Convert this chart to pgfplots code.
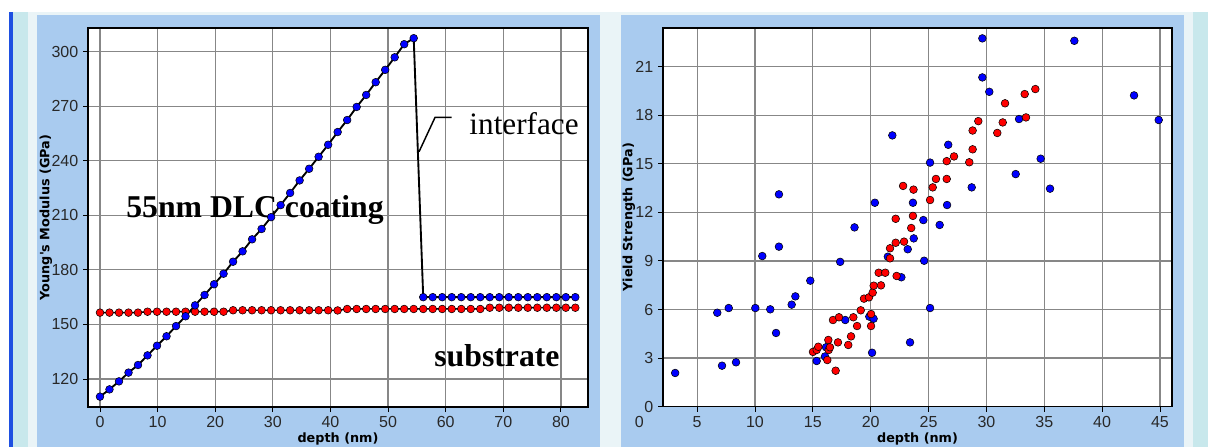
\documentclass[border=0pt]{standalone}
\usepackage{fontspec}
\usepackage{pgfplots}
\usepackage{pgfplotstable}
\pgfplotsset{compat=1.18}
\setmainfont{Liberation Sans}
\newfontfamily\labfont{DejaVu Sans}
\newfontfamily\seriffont{Liberation Serif}
\definecolor{panel}{RGB}{169,203,239}
\definecolor{pale}{RGB}{234,244,247}
\definecolor{cyanstrip}{RGB}{200,232,236}
\definecolor{edgeblue}{RGB}{30,80,225}
\definecolor{gridgray}{RGB}{135,135,135}
\definecolor{tickgray}{RGB}{40,40,40}

\pgfplotstableread{
x y
0 110.3
1.65 114.3
3.3 118.7
4.95 123.5
6.6 127.7
8.25 133.0
9.9 138.3
11.55 143.5
13.2 149.1
14.85 154.5
16.5 160.5
18.15 166.2
19.8 172.1
21.45 177.9
23.1 184.5
24.75 190.2
26.4 196.8
28.05 202.5
29.7 209.0
31.35 215.6
33.0 222.3
34.65 229.2
36.3 235.6
37.95 242.2
39.6 248.8
41.25 255.8
42.9 262.4
44.55 269.6
46.2 276.2
47.85 283.2
49.5 290.0
51.15 296.9
52.8 304.1
54.45 307.4
56.1 165.0
57.75 165.0
59.4 165.0
61.05 165.0
62.7 165.0
64.35 165.0
66.0 165.0
67.65 165.0
69.3 165.0
70.95 165.0
72.6 165.0
74.25 165.0
75.9 165.0
77.55 165.0
79.2 165.0
80.85 165.0
82.5 165.0
}\modblue

\pgfplotstableread{
x y
0 156.5
1.65 156.5
3.3 156.5
4.95 156.5
6.6 156.5
8.25 157.0
9.9 157.0
11.55 157.0
13.2 157.0
14.85 157.0
16.5 157.0
18.15 157.0
19.8 157.0
21.45 157.0
23.1 157.8
24.75 157.8
26.4 157.8
28.05 157.8
29.7 157.8
31.35 157.8
33.0 157.8
34.65 157.8
36.3 157.8
37.95 157.8
39.6 157.8
41.25 157.7
42.9 158.5
44.55 158.5
46.2 158.5
47.85 158.5
49.5 158.5
51.15 158.5
52.8 158.5
54.45 158.5
56.1 158.5
57.75 158.5
59.4 158.5
61.05 158.5
62.7 158.5
64.35 158.5
66.0 158.5
67.65 159.2
69.3 159.2
70.95 159.2
72.6 159.2
74.25 159.2
75.9 159.2
77.55 159.2
79.2 159.2
80.85 159.2
82.5 159.2
}\modred

\pgfplotstableread{
x y
3.1 2.08
6.74 5.80
7.15 2.53
7.73 6.09
8.36 2.74
10.03 6.09
10.63 9.30
11.32 6.01
11.82 4.55
12.07 9.88
12.07 13.11
13.17 6.30
13.49 6.81
14.78 7.78
15.33 2.82
16.05 3.10
16.14 3.67
17.36 8.94
17.80 5.35
18.60 11.07
19.88 5.56
20.12 3.33
20.25 5.43
20.36 12.59
21.48 9.26
21.87 16.75
22.65 7.99
23.2 9.72
23.4 3.97
23.65 12.59
23.72 10.39
24.55 11.52
24.62 9.01
25.13 15.07
25.13 6.09
25.96 11.22
26.6 12.45
26.7 16.17
28.73 13.54
29.65 22.74
29.65 20.33
30.25 19.44
32.53 14.36
32.82 17.76
34.69 15.31
35.5 13.46
37.6 22.59
42.76 19.22
44.89 17.70
}\ysblue

\pgfplotstableread{
x y
15.01 3.38
15.33 3.50
15.47 3.70
16.25 2.88
16.34 4.12
16.37 3.50
16.48 3.67
16.74 5.35
16.97 2.22
17.17 3.97
17.26 5.52
18.06 3.81
18.30 4.34
18.50 5.52
18.82 4.98
19.14 5.95
19.42 6.67
19.85 6.75
20.03 4.98
20.03 5.72
20.17 7.04
20.26 7.47
20.69 8.27
20.89 7.49
21.26 8.27
21.67 9.16
21.67 9.78
22.16 10.12
22.16 11.60
22.24 8.07
22.80 13.63
22.88 10.19
23.50 11.03
23.65 11.78
23.70 13.40
25.13 12.76
25.36 13.54
25.64 14.06
26.57 14.06
26.57 15.16
27.20 15.45
28.52 15.09
28.81 15.89
28.81 17.05
29.30 17.63
30.94 16.90
31.41 17.55
31.61 18.73
33.31 19.30
33.42 17.86
34.23 19.61
}\ysred

\pgfplotsset{
 myaxis/.style={
   scale only axis,
   axis background/.style={fill=white},
   axis line style={black, line width=1.2pt},
   grid=major,
   major grid style={gridgray, line width=0.9pt},
   tick align=outside,
   tick pos=left,
   major tick length=3.75pt,
   tick style={black, line width=0.7pt},
   ticklabel style={font=\fontsize{12}{13}\selectfont, text=tickgray},
   /pgf/number format/assume math mode=true,
   label style={font=\labfont\bfseries\fontsize{9.6}{11}\selectfont},
   clip=false,
 },
 bluemk/.style={mark=*, mark size=2.9pt, mark options={fill=blue, draw=black, line width=0.4pt}},
 redmk/.style={mark=*, mark size=2.9pt, mark options={fill=red, draw=black, line width=0.4pt}},
}

\begin{document}
\begin{tikzpicture}
\begin{scope}[x=0.75pt,y=-0.75pt]
\fill[white] (0,0) rectangle (1208,447);
\fill[pale] (28,12) rectangle (1193,447);
\fill[cyanstrip] (13,12) rectangle (28,447);
\fill[edgeblue] (9,12) rectangle (13,447);
\fill[cyanstrip] (1193,12) rectangle (1208,447);
\fill[panel] (37,15) rectangle (600,447);
\fill[panel] (621,15) rectangle (1184,447);
\end{scope}

\begin{axis}[myaxis, at={(66pt,-305.25pt)}, anchor=south west,
  width=375pt, height=284.25pt,
  xmin=-2.08, xmax=84.7, ymin=104.6, ymax=313,
  xtick={0,10,...,80}, ytick={120,150,...,300},
  xlabel={depth (nm)}, ylabel={Young's Modulus (GPa)},
  xlabel style={at={(axis description cs:0.5,-0.0844)}, anchor=center},
  ylabel style={at={(axis description cs:-0.084,0.5)}, anchor=center},
]
\addplot[black, line width=1.1pt, redmk] table {\modred};
\addplot[black, line width=1.4pt, bluemk] table {\modblue};
\node[font=\seriffont\bfseries\fontsize{23.8}{26}\selectfont, anchor=base] at (axis cs:26.9,208.6) {55nm DLC coating};
\node[font=\seriffont\bfseries\fontsize{23.8}{26}\selectfont, anchor=base] at (axis cs:68.9,126.8) {substrate};
\node[font=\seriffont\fontsize{23.4}{26}\selectfont, anchor=base] at (axis cs:73.6,254.2) {interface};
\draw[black, line width=1.1pt] (axis cs:61.04,263.9) -- (axis cs:58.16,263.9) -- (axis cs:55.38,245.0);
\end{axis}

\begin{axis}[myaxis, at={(497.25pt,-305.0pt)}, anchor=south west,
  width=381.75pt, height=284.0pt,
  xmin=2.05, xmax=46.04, ymin=0, ymax=23.38,
  xtick={5,10,...,45}, ytick={0,3,...,21},
  xlabel={depth (nm)}, ylabel={Yield Strength (GPa)},
  xlabel style={at={(axis description cs:0.5,-0.085)}, anchor=center},
  ylabel style={at={(axis description cs:-0.0668,0.5)}, anchor=center},
]
\addplot[only marks, bluemk] table {\ysblue};
\addplot[only marks, redmk] table {\ysred};
\node[font=\fontsize{12}{13}\selectfont, text=tickgray, anchor=north, yshift=-3.75pt] at (axis cs:0,0) {0};
\end{axis}

\pgfresetboundingbox
\path (0,0) rectangle (906pt,-335.25pt);
\end{tikzpicture}
\end{document}
